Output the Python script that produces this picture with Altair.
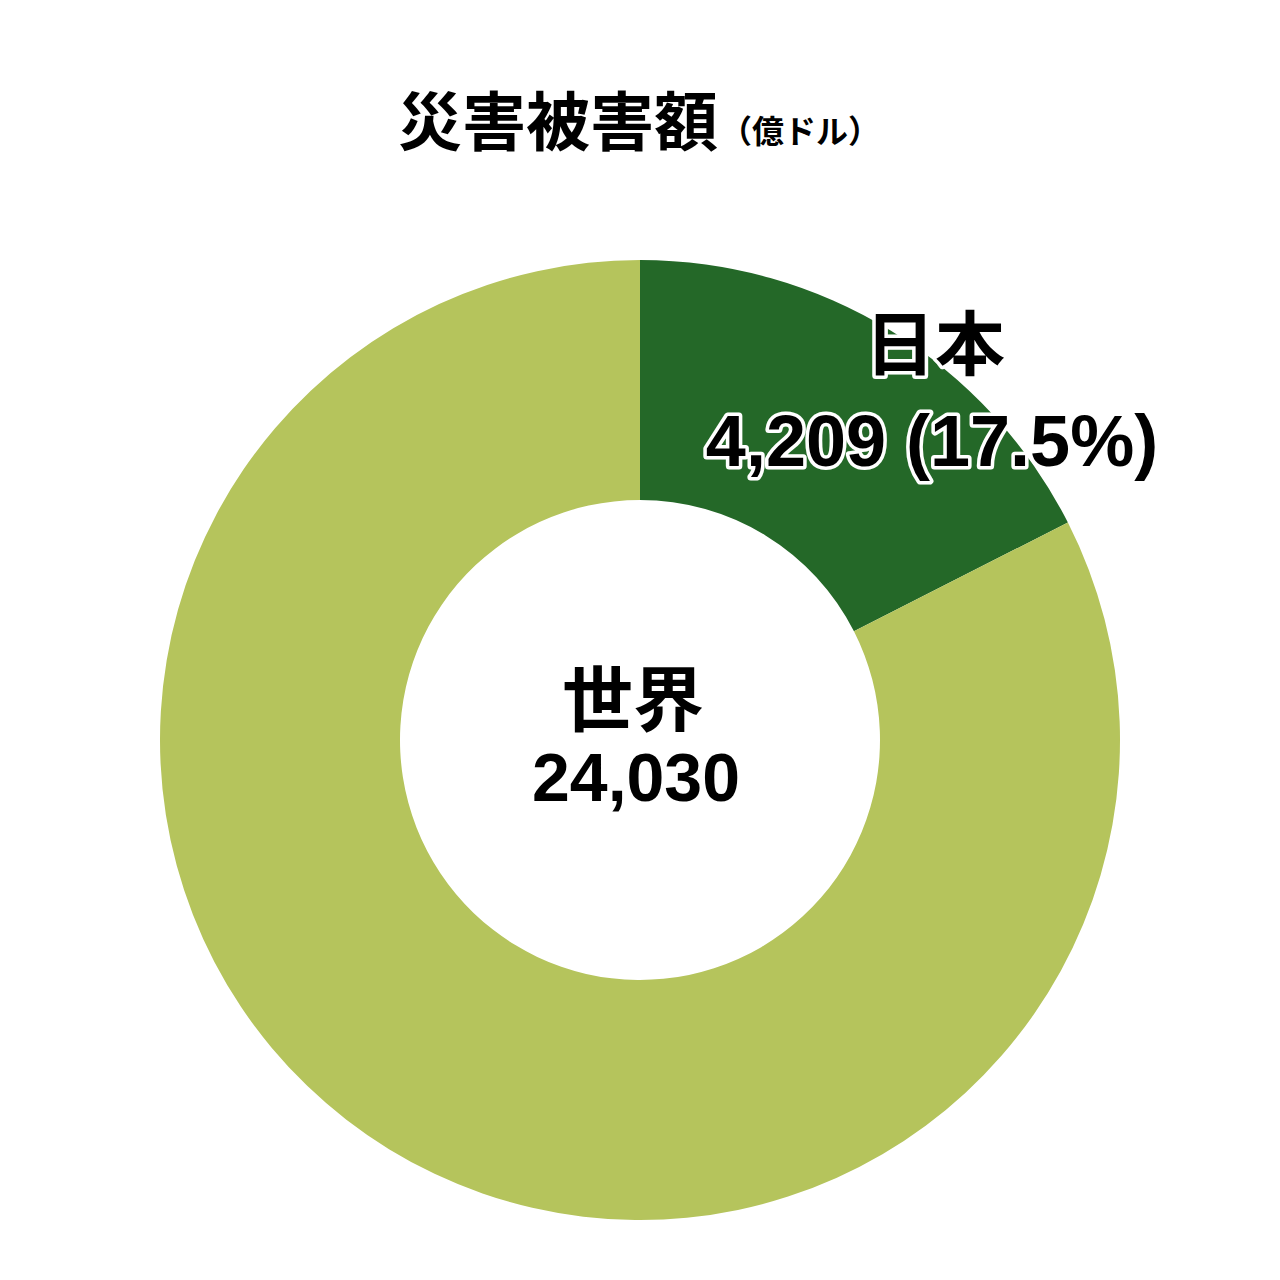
import altair as alt
import pandas as pd

# data
regions = ["日本", "その他"]
values = [4209, 19821]
colors = ["#246828", "#B5C45C"]
world_label = "世界"
world_total = 24030
japan_share = 17.5
title_main = "災害被害額"
title_unit = "（億ドル）"

df = pd.DataFrame({"region": regions, "value": values, "order": [0, 1]})

W, H = 1264, 1264
CX, CY = 632, 732
CJK = "Noto Sans CJK JP"
LAT = "Liberation Sans"

arc = alt.Chart(df).mark_arc(innerRadius=240, outerRadius=480, x=CX, y=CY).encode(
    theta=alt.Theta("value:Q", stack=True),
    color=alt.Color("region:N", scale=alt.Scale(domain=regions, range=colors), legend=None),
    order=alt.Order("order:Q"),
)


def text_layer(d, font, stroke=False, align="center"):
    kw = dict(font=font, fontWeight="bold", align=align, baseline="middle", fill="black")
    if stroke:
        kw.update(stroke="white", strokeWidth=7, strokeJoin="round")
    return alt.Chart(d).mark_text(**kw).encode(
        text="line:N",
        x=alt.X("x:Q", scale=None),
        y=alt.Y("y:Q", scale=None),
        size=alt.Size("size:Q", scale=None, legend=None),
    )


jp_name = pd.DataFrame({"line": [regions[0]], "x": [927], "y": [341], "size": [70]})
jp_val = pd.DataFrame({"line": [f"{values[0]:,} ({japan_share}%)"], "x": [924], "y": [436], "size": [72]})

center_name = pd.DataFrame({"line": [world_label], "x": [625], "y": [696], "size": [71]})
center_val = pd.DataFrame({"line": [f"{world_total:,}"], "x": [628], "y": [773], "size": [68]})

title_df = pd.DataFrame({
    "line": [title_main, title_unit],
    "x": [390, 712],
    "y": [118, 125],
    "size": [64, 32],
})

chart = alt.layer(
    arc,
    text_layer(jp_name, CJK, stroke=True),
    text_layer(jp_val, LAT, stroke=True),
    text_layer(jp_name, CJK),
    text_layer(jp_val, LAT),
    text_layer(center_name, CJK),
    text_layer(center_val, LAT),
    text_layer(title_df, CJK, align="left"),
).properties(
    width=W, height=H, padding=0, autosize=alt.AutoSizeParams(type="none"), background="white"
).configure_view(stroke=None)

chart.save("out.html", embed_options={"renderer": "svg", "actions": False})
